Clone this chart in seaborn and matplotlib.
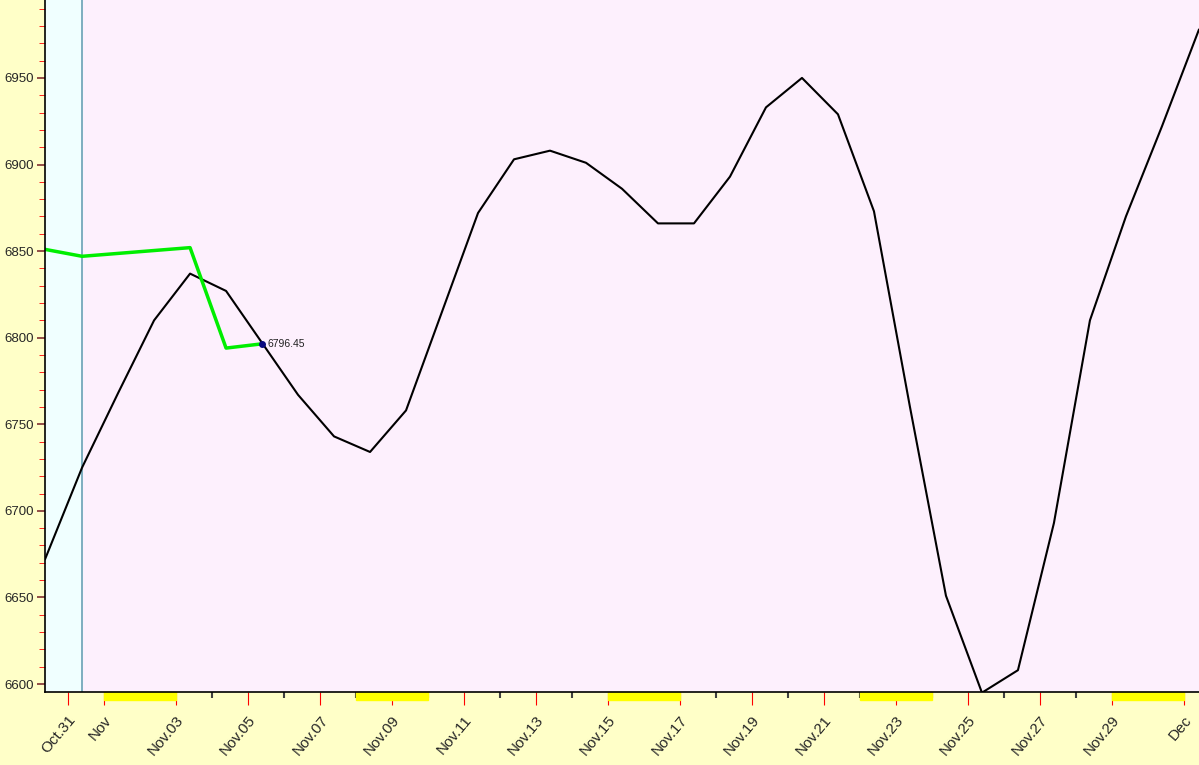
import matplotlib
matplotlib.use("Agg")
import matplotlib.pyplot as plt
import matplotlib.transforms as mtransforms
from matplotlib.ticker import MultipleLocator
import seaborn as sns
import pandas as pd

# day offsets from Oct 31
black_x = [-0.64, 0.39, 1.39, 2.39, 3.39, 4.39, 5.39, 6.39, 7.39, 8.39, 9.39, 10.39,
           11.39, 12.39, 13.39, 14.39, 15.39, 16.39, 17.39, 18.39, 19.39, 20.39, 21.39,
           22.39, 23.39, 24.39, 25.39, 26.39, 27.39, 28.39, 29.39, 30.39, 31.42]
black_y = [6672, 6725, 6768, 6810, 6837, 6827, 6797, 6767, 6743, 6734, 6758, 6815,
           6872, 6903, 6908, 6901, 6886, 6866, 6866, 6893, 6933, 6950, 6929,
           6873, 6760, 6651, 6595, 6608, 6693, 6810, 6870, 6922, 6978]
green_x = [-0.64, 0.39, 3.39, 4.39, 5.39]
green_y = [6851, 6847, 6852, 6794, 6796.45]
tick_days = [0, 1, 3, 5, 7, 9, 11, 13, 15, 17, 19, 21, 23, 25, 27, 29, 31]
tick_labels = ["Oct.31", "Nov", "Nov.03", "Nov.05", "Nov.07", "Nov.09", "Nov.11", "Nov.13",
               "Nov.15", "Nov.17", "Nov.19", "Nov.21", "Nov.23", "Nov.25", "Nov.27",
               "Nov.29", "Dec"]
weekend_starts = [1, 8, 15, 22, 29]

sns.set_style("white")
plt.rcParams['font.family'] = ['Liberation Sans', 'DejaVu Sans']
fig = plt.figure(figsize=(11.99, 7.65), dpi=100, facecolor="#ffffc8")
ax = fig.add_axes([45 / 1199, 73 / 765, 1154 / 1199, 692 / 765])
ax.set_facecolor("#fdf0fd")

ax.axvspan(-0.64, 0.39, color="#f0ffff", zorder=0)
ax.axvline(0.39, color="#6a9fb5", lw=1.2)

df_b = pd.DataFrame({"d": black_x, "v": black_y})
df_g = pd.DataFrame({"d": green_x, "v": green_y})
sns.lineplot(data=df_b, x="d", y="v", ax=ax, color="black", lw=1.5)
sns.lineplot(data=df_g, x="d", y="v", ax=ax, color="#00ee00", lw=2.5)
ax.plot(green_x[-1], green_y[-1], marker="o", ms=4, color="#0a0a80")
ax.text(green_x[-1] + 0.15, green_y[-1], f"{green_y[-1]:.2f}", fontsize=7.5,
        va="center", color="#202020")

ax.set_xlim(-0.64, 31.42)
ax.set_ylim(6595.4, 6995)
ax.set_xlabel("")
ax.set_ylabel("")

ax.yaxis.set_major_locator(MultipleLocator(50))
ax.yaxis.set_minor_locator(MultipleLocator(10))
ax.tick_params(axis="y", which="major", length=6, width=1.2, color="#803030",
               labelsize=9.5, direction="out", left=True, pad=2)
ax.tick_params(axis="y", which="minor", length=4, color="red", direction="out", left=True)
ax.set_xticks(range(0, 32), minor=True)
ax.set_xticks(tick_days)
ax.set_xticklabels(tick_labels, rotation=50, fontsize=11, ha="right", rotation_mode="anchor")
ax.tick_params(axis="x", which="major", length=9, color="red", direction="out", pad=6, bottom=True)
ax.tick_params(axis="x", which="minor", length=4, width=1.5, color="#404040",
               direction="out", bottom=True)

trans = mtransforms.blended_transform_factory(ax.transData, ax.transAxes)
for s in weekend_starts:
    ax.add_patch(plt.Rectangle((s, -0.012), 2, 0.012, transform=trans, color="yellow",
                               clip_on=False, zorder=1))

for side in ["top", "right"]:
    ax.spines[side].set_visible(False)
for side in ["left", "bottom"]:
    ax.spines[side].set_color("black")
    ax.spines[side].set_linewidth(1.2)

fig.savefig("out.png", dpi=100, facecolor=fig.get_facecolor())
